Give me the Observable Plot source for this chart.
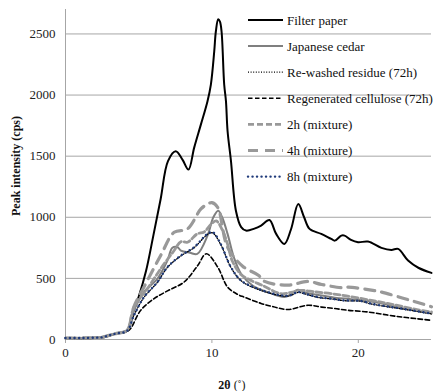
<!DOCTYPE html>
<html>
<head>
<meta charset="utf-8">
<script src="https://cdn.jsdelivr.net/npm/d3@7"></script>
<script src="https://cdn.jsdelivr.net/npm/@observablehq/plot@0.6"></script>
<style>
  html, body { margin: 0; padding: 0; background: white; }
  #chart svg, #chart svg text, #chart svg tspan { font-family: "Liberation Serif", "Times New Roman", Times, serif !important; }
</style>
</head>
<body>
<div id="chart"></div>
<script>
// ---- Data ----
const seriesNames = [
  "Filter paper",
  "Japanese cedar",
  "Re-washed residue (72h)",
  "Regenerated cellulose (72h)",
  "2h (mixture)",
  "4h (mixture)",
  "8h (mixture)"
];

const filterX = [0, 1, 2, 2.5, 3, 3.5, 4.2, 4.66, 5.0, 5.5, 6.0, 6.5, 7.0, 7.53, 8.0, 8.4, 8.79, 9.25, 9.7, 9.93, 10.16, 10.27, 10.43, 10.55, 10.66, 10.84, 10.96, 11.07, 11.3, 11.64, 12.0, 12.33, 12.9, 13.36, 13.93, 14.38, 14.95, 15.4, 15.9, 16.3, 16.67, 17.47, 18.15, 18.4, 18.84, 19.06, 19.5, 19.98, 20.66, 21.58, 22.26, 22.72, 23.4, 24.1, 25];
const filterY = [10, 10, 12, 15, 30, 50, 70, 240, 350, 560, 850, 1150, 1460, 1540, 1470, 1390, 1570, 1760, 1950, 2086, 2358, 2520, 2620, 2600, 2520, 2086, 1950, 1706, 1463, 1054, 920, 891, 907, 932, 978, 866, 782, 900, 1108, 1000, 905, 864, 823, 809, 850, 850, 815, 796, 801, 750, 733, 741, 646, 587, 545];

const cedarX = [0, 1, 2, 2.5, 3, 3.5, 4.2, 4.68, 5.36, 6.28, 6.96, 7.3, 7.65, 7.88, 8.5, 9.0, 9.7, 10.1, 10.43, 10.7, 11.07, 11.5, 11.99, 12.8, 13.8, 14.95, 15.4, 15.87, 16.5, 17.5, 18.4, 19.5, 20.66, 22, 23, 24, 25];
const cedarY = [12, 12, 15, 18, 35, 50, 75, 240, 388, 497, 646, 750, 755, 728, 710, 700, 850, 1000, 1054, 1000, 864, 673, 538, 440, 388, 347, 370, 407, 380, 360, 342, 330, 315, 285, 255, 235, 212];

const rewashX = [0, 1, 2, 2.5, 3, 3.5, 4.2, 4.68, 5.36, 6.28, 6.96, 7.88, 8.79, 9.7, 10.05, 10.6, 11.3, 12.0, 13.1, 14.7, 15.3, 15.9, 16.5, 17.2, 18.2, 19.0, 20.2, 20.9, 22.0, 23.0, 24.0, 25];
const rewashY = [12, 12, 15, 18, 34, 50, 70, 200, 345, 468, 590, 684, 752, 860, 872, 778, 590, 480, 412, 358, 357, 385, 368, 345, 332, 318, 312, 290, 268, 250, 230, 210];

const regenX = [0, 1, 2, 2.5, 3, 3.5, 4.2, 4.45, 5.14, 6.05, 7.0, 8.1, 9.0, 9.62, 10.4, 11.07, 11.76, 12.2, 13.36, 14.2, 15.2, 16.55, 17.5, 18.4, 19.3, 20.66, 22, 22.95, 24, 25];
const regenY = [12, 12, 15, 18, 35, 50, 65, 90, 239, 334, 400, 470, 600, 701, 592, 429, 369, 347, 295, 268, 245, 280, 265, 253, 239, 225, 200, 184, 170, 157];

const h2X = [0, 1, 2, 2.5, 3, 3.5, 4.2, 4.68, 5.6, 6.5, 7.42, 7.88, 8.33, 9.0, 9.47, 10.0, 10.3, 10.7, 11.07, 11.4, 12.0, 12.55, 13.5, 14.7, 15.4, 16.1, 17.0, 18.15, 19.5, 20.9, 22, 23, 24, 25];
const h2Y = [12, 12, 15, 18, 35, 50, 75, 266, 416, 579, 728, 800, 796, 864, 880, 950, 970, 900, 780, 640, 530, 490, 440, 375, 385, 402, 390, 375, 350, 320, 295, 270, 245, 225];

const h4X = [0, 1, 2, 2.5, 3, 3.5, 4.2, 4.68, 5.36, 6.5, 7.42, 8.33, 9.25, 9.7, 10.0, 10.4, 11.07, 12.1, 13.2, 13.6, 15.2, 16.55, 17.5, 18.84, 19.3, 21.1, 21.6, 23, 24, 25];
const h4Y = [12, 12, 15, 18, 35, 50, 75, 270, 429, 687, 877, 905, 1068, 1108, 1120, 1080, 755, 600, 524, 475, 445, 475, 450, 425, 429, 400, 388, 340, 305, 268];

const h8X = [0, 1, 2, 2.5, 3, 3.5, 4.2, 4.68, 5.36, 6.28, 6.96, 7.88, 8.79, 9.7, 10.07, 10.6, 11.3, 11.99, 13.13, 14.7, 15.3, 15.87, 16.5, 17.24, 18.15, 19.0, 20.2, 20.9, 22.0, 22.95, 24.0, 25];
const h8Y = [12, 12, 15, 18, 35, 50, 70, 198, 347, 470, 592, 687, 755, 864, 877, 782, 592, 483, 416, 361, 360, 388, 370, 347, 334, 320, 315, 293, 270, 253, 232, 212];

const xTicks = [0, 10, 20];
const yTicks = [0, 500, 1000, 1500, 2000, 2500];

// ---- Build table ----
const seriesXY = [
  [filterX, filterY], [cedarX, cedarY], [rewashX, rewashY], [regenX, regenY],
  [h2X, h2Y], [h4X, h4Y], [h8X, h8Y]
];
const data = seriesNames.map((name, i) =>
  seriesXY[i][0].map((x, j) => ({series: name, x, y: seriesXY[i][1][j]}))
);

// ---- Styles ----
const styles = {
  "Filter paper": {stroke: "#000000", strokeWidth: 2},
  "Japanese cedar": {stroke: "#7f7f7f", strokeWidth: 2},
  "Re-washed residue (72h)": {stroke: "#000000", strokeWidth: 1.3, strokeDasharray: "1,1.6"},
  "Regenerated cellulose (72h)": {stroke: "#000000", strokeWidth: 1.6, strokeDasharray: "4.5,2.5"},
  "2h (mixture)": {stroke: "#999999", strokeWidth: 2.8, strokeDasharray: "6,3"},
  "4h (mixture)": {stroke: "#999999", strokeWidth: 3.2, strokeDasharray: "10,7"},
  "8h (mixture)": {stroke: "#1f3a7a", strokeWidth: 2.4, strokeDasharray: "0.1,4.4", strokeLinecap: "round"}
};

const gridColor = "#a6a6a6";
const font = "Liberation Serif, Times New Roman, Times, serif";

const chart = Plot.plot({
  width: 436,
  height: 391,
  marginLeft: 65,
  marginRight: 5,
  marginTop: 9,
  marginBottom: 52,
  style: {fontFamily: font, fontSize: "13px", background: "white", color: "#222"},
  x: {domain: [0, 25]},
  y: {domain: [0, 2700]},
  marks: [
    Plot.gridY(yTicks.slice(1), {stroke: gridColor, strokeOpacity: 1, strokeWidth: 1}),
    Plot.ruleX([0], {stroke: gridColor, strokeWidth: 1}),
    Plot.ruleY([0], {stroke: gridColor, strokeWidth: 1}),
    Plot.axisX({ticks: xTicks, tickSize: 4, tickPadding: 4, stroke: gridColor, fill: "#222", label: null,
      fontSize: 13, fontFamily: font, tickFormat: d3.format("d")}),
    Plot.axisY({ticks: yTicks, tickSize: 0, tickPadding: 10, label: null, fill: "#222",
      fontSize: 13, fontFamily: font, tickFormat: d3.format("d")}),
    ...data.map((d, i) => Plot.line(d, {
      x: "x", y: "y", curve: "catmull-rom",
      ...styles[seriesNames[i]]
    }))
  ]
});

document.getElementById("chart").appendChild(chart);

// ---- Axis titles & legend (added to the SVG) ----
const svg = d3.select(chart);

svg.append("text")
  .attr("transform", "translate(20,166) rotate(-90)")
  .attr("text-anchor", "middle")
  .attr("font-family", font)
  .attr("font-size", 12)
  .attr("font-weight", "bold")
  .attr("fill", "#111")
  .text("Peak intensity (cps)");

const xl = svg.append("text")
  .attr("x", 232).attr("y", 389)
  .attr("text-anchor", "middle")
  .attr("font-family", font)
  .attr("font-size", 12)
  .attr("fill", "#111");
xl.append("tspan").attr("font-weight", "bold").text("2θ");
xl.append("tspan").text(" (˚)");

const legend = svg.append("g");
seriesNames.forEach((name, i) => {
  const yy = 20 + i * 26.1;
  const s = styles[name];
  legend.append("line")
    .attr("x1", 248).attr("x2", 283).attr("y1", yy).attr("y2", yy)
    .attr("stroke", s.stroke)
    .attr("stroke-width", s.strokeWidth)
    .attr("stroke-dasharray", s.strokeDasharray || null)
    .attr("stroke-linecap", s.strokeLinecap || null);
  legend.append("text")
    .attr("x", 287).attr("y", yy + 4.5)
    .attr("text-anchor", "start")
    .attr("font-family", font)
    .attr("font-size", 13)
    .attr("fill", "#111")
    .text(name);
});
</script>
</body>
</html>
